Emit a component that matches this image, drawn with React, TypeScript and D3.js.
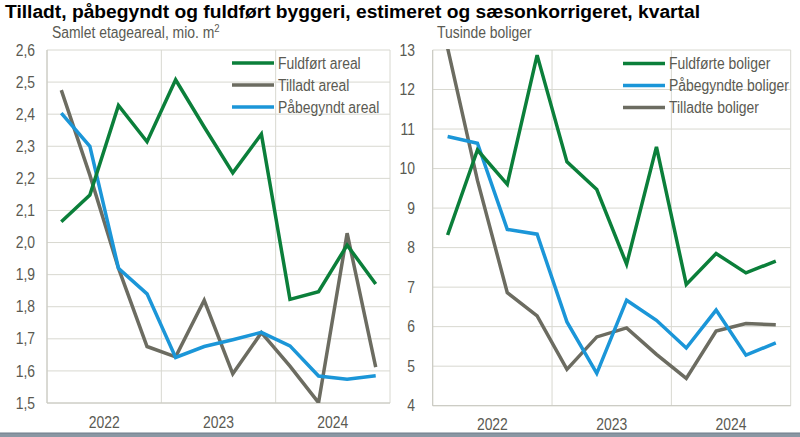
import React from "react";
import * as d3 from "d3";

const quarters = ["2022K1","2022K2","2022K3","2022K4","2023K1","2023K2","2023K3","2023K4","2024K1","2024K2","2024K3","2024K4"];
const years = ["2022", "2023", "2024"];

const fuldfortAreal = [2.065, 2.148, 2.427, 2.314, 2.507, 2.36, 2.217, 2.338, 1.823, 1.847, 1.992, 1.871];
const tilladtAreal = [2.475, 2.21, 1.92, 1.676, 1.644, 1.82, 1.591, 1.719, 1.615, 1.501, 2.029, 1.612];
const paabegyndtAreal = [2.403, 2.30, 1.92, 1.84, 1.642, 1.676, 1.697, 1.72, 1.678, 1.584, 1.574, 1.585];

const fuldforteBoliger = [8.32, 10.47, 9.6, 12.87, 10.17, 9.47, 7.58, 10.55, 7.07, 7.85, 7.36, 7.66];
const paabegyndteBoliger = [10.81, 10.64, 8.46, 8.34, 6.12, 4.82, 6.67, 6.16, 5.46, 6.42, 5.28, 5.59];
const tilladteBoliger = [13.05, 9.7, 6.86, 6.27, 4.92, 5.74, 5.97, 5.3, 4.69, 5.89, 6.08, 6.05];

const leftTicks = [1.5, 1.6, 1.7, 1.8, 1.9, 2.0, 2.1, 2.2, 2.3, 2.4, 2.5, 2.6];
const rightTicks = [4, 5, 6, 7, 8, 9, 10, 11, 12, 13];

const GREEN = "#0b7f3a";
const BLUE = "#1b96d8";
const GRAY = "#6c6c61";
const TEXT = "#5a5a52";
const GRID = "#d8d8d0";
const FONT = "'Liberation Sans', Arial, sans-serif";

type Series = { name: string; values: number[]; color: string };

function NText(props: { x: number; y: number; anchor?: string; dy?: string; children: React.ReactNode; size?: number }) {
  return (
    <text transform={`translate(${props.x},${props.y}) scale(0.87,1)`} textAnchor={props.anchor || "start"}
      dy={props.dy} fontFamily={FONT} fontSize={props.size || 16} fill={TEXT}>{props.children}</text>
  );
}

function Panel(props: {
  id: string;
  x0: number; x1: number; yTop: number; yBot: number;
  domain: [number, number];
  ticks: number[];
  fmt: (v: number) => string;
  tickRight: number;
  subtitle: React.ReactNode;
  subX: number;
  series: Series[];
  legendOrder: Series[];
  legX: number; legY: number;
  yearY: number;
}) {
  const { x0, x1, yTop, yBot } = props;
  const x = d3.scaleLinear().domain([0, quarters.length]).range([x0, x1]);
  const y = d3.scaleLinear().domain(props.domain).range([yBot, yTop]);
  const line = d3.line<number>().x((_, i) => x(i + 0.5)).y((d) => y(d));
  const clipId = "clip-" + props.id;
  return (
    <g>
      <defs>
        <clipPath id={clipId}>
          <rect x={x0} y={yTop - 1} width={x1 - x0} height={yBot - yTop + 1} />
        </clipPath>
      </defs>
      {props.ticks.map((t) => (
        <line key={"h" + t} x1={x0} x2={x1} y1={y(t)} y2={y(t)} stroke={GRID} strokeWidth={1} />
      ))}
      {[0, 4, 8, 12].map((q) => (
        <line key={"v" + q} x1={x(q)} x2={x(q)} y1={yTop} y2={yBot} stroke={GRID} strokeWidth={1} />
      ))}
      <line x1={x0} x2={x0} y1={yTop} y2={yBot} stroke="#c8c8c0" strokeWidth={1} />
      <line x1={x0} x2={x1} y1={yBot} y2={yBot} stroke="#c8c8c0" strokeWidth={1} />
      {props.ticks.map((t) => (
        <NText key={"t" + t} x={props.tickRight} y={y(t)} dy="0.35em" anchor="end">{props.fmt(t)}</NText>
      ))}
      {years.map((yr, i) => (
        <NText key={yr} x={x(i * 4 + 2)} y={props.yearY} anchor="middle">{yr}</NText>
      ))}
      <NText x={props.subX} y={38}>{props.subtitle}</NText>
      <g clipPath={`url(#${clipId})`}>
        {props.series.map((s) => (
          <path key={s.name} d={line(s.values) || ""} fill="none" stroke={s.color}
            strokeWidth={3.5} strokeLinejoin="miter" />
        ))}
      </g>
      {props.legendOrder.map((s, i) => (
        <g key={"l" + s.name}>
          <line x1={props.legX} x2={props.legX + 42} y1={props.legY + i * 22} y2={props.legY + i * 22}
            stroke={s.color} strokeWidth={3.5} />
          <NText x={props.legX + 46} y={props.legY + i * 22} dy="0.35em">{s.name}</NText>
        </g>
      ))}
    </g>
  );
}

export default function App() {
  const fmtLeft = (v: number) => d3.format(".1f")(v).replace(".", ",");
  const leftSeries: Series[] = [
    { name: "Tilladt areal", values: tilladtAreal, color: GRAY },
    { name: "Påbegyndt areal", values: paabegyndtAreal, color: BLUE },
    { name: "Fuldført areal", values: fuldfortAreal, color: GREEN },
  ];
  const rightSeries: Series[] = [
    { name: "Tilladte boliger", values: tilladteBoliger, color: GRAY },
    { name: "Påbegyndte boliger", values: paabegyndteBoliger, color: BLUE },
    { name: "Fuldførte boliger", values: fuldforteBoliger, color: GREEN },
  ];
  const leftSub = (
    <>
      Samlet etageareal, mio. m<tspan dy="-6" fontSize={11}>2</tspan>
    </>
  );
  return (
    <svg width={800} height={437} style={{ position: "absolute", left: 0, top: 0, background: "#fff" }}>
      <rect x={0} y={0} width={800} height={437} fill="#fff" />
      <text x={5} y={18} fontFamily="'Liberation Sans', Arial, sans-serif" fontWeight="bold"
        fontSize={18} textLength={695} lengthAdjust="spacingAndGlyphs" fill="#000">Tilladt, påbegyndt og fuldført byggeri, estimeret og sæsonkorrigeret, kvartal</text>
      <Panel id="l" x0={47} x1={390} yTop={50} yBot={403} domain={[1.5, 2.6]} ticks={leftTicks}
        fmt={fmtLeft} tickRight={35} subtitle={leftSub} subX={52}
        series={leftSeries}
        legendOrder={[leftSeries[2], leftSeries[0], leftSeries[1]]}
        legX={232} legY={63} yearY={428} />
      <Panel id="r" x0={432.7} x1={790.7} yTop={50} yBot={405.7} domain={[4, 13]} ticks={rightTicks}
        fmt={(v) => String(v)} tickRight={415} subtitle="Tusinde boliger" subX={437}
        series={rightSeries}
        legendOrder={[rightSeries[2], rightSeries[1], rightSeries[0]]}
        legX={623} legY={63.5} yearY={430} />
      <rect x={0} y={433} width={800} height={4} fill="#8a97a3" />
      <line x1={0} x2={800} y1={433} y2={433} stroke="#6f7d8a" strokeWidth={1} />
    </svg>
  );
}
